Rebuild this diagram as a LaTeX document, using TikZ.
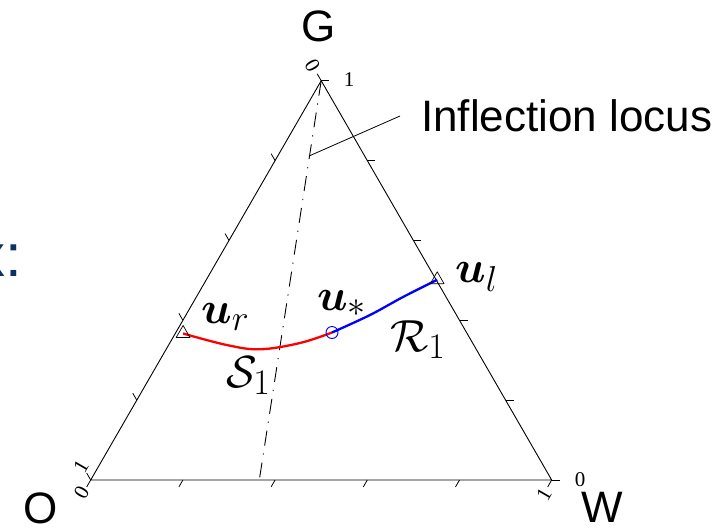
\RequirePackage{fix-cm}
\documentclass[tikz,border=0pt]{standalone}
\usepackage[no-math]{fontspec}
\usepackage{amsmath,amssymb}
\newfontfamily\lsans{Liberation Sans}
\newfontfamily\lserif{Liberation Serif}
\DeclareMathSizes{45}{45}{36}{29}
\usetikzlibrary{calc,shapes.geometric}
\definecolor{navy}{RGB}{10,50,100}
\begin{document}
\begin{tikzpicture}[x=1pt,y=-1pt,line join=round]
\tikzset{
 edge/.style={line width=0.9pt,black},
 tickmark/.style={line width=0.8pt},
 ticklbl/.style={font=\lserif\fontsize{21}{21}\selectfont, inner sep=0pt},
 vlbl/.style={font=\lsans\fontsize{44}{48}\selectfont, inner sep=0pt},
 mlbl/.style={font=\fontsize{45}{50}\selectfont, inner sep=0pt, anchor=base west},
 marker/.style={draw, regular polygon, regular polygon sides=3, minimum size=16pt, inner sep=0pt, line width=0.7pt},
 locus/.style={line width=0.9pt, dash pattern=on 15pt off 8pt on 1.2pt off 8pt},
}
\useasboundingbox (0,0) rectangle (728,528);
\clip (0,0) rectangle (728,528);
% vertices
\coordinate (O) at (90.7,480);
\coordinate (W) at (551.7,480);
\coordinate (G) at (321.2,80.7);
% ticks
\foreach \t in {0,0.2,0.4,0.6,0.8,1}{
 \draw[tickmark] ($(O)!\t!(W)$) -- ++(-4,6.9);
 \draw[tickmark] ($(O)!\t!(G)$) -- ++(-4,-6.9);
 \draw[tickmark] ($(W)!\t!(G)$) -- ++(8,0);
}
% triangle
\draw[edge] (O) -- (W) -- (G) -- cycle;
% inflection locus
\coordinate (Lb) at ($(O)!0.3657!(W)$);
\draw[locus] (G) -- (Lb);
\coordinate (Lp) at ($(G)!0.188!(Lb)$);
\coordinate (Le) at (400,116);
\draw[line width=0.8pt] (Lp) -- (Le);
\node[vlbl, anchor=base west] (infl) at (421,131.7) {Inflection locus};
% states
\coordinate (ur) at (183.1,333.5);
\coordinate (us) at (332,332.5);
\coordinate (ul) at (437.2,279.8);
\draw[red, line width=2.3pt] plot[smooth, tension=0.6] coordinates {(ur) (226.7,345) (260,349.3) (300,343) (us)};
\draw[blue, line width=2.3pt] plot[smooth, tension=0.6] coordinates {(us) (370,315) (403,297) (ul)};
\node[marker] (urm) at (ur) {};
\node[marker] (ulm) at (ul) {};
\node[circle, draw=blue, minimum size=12pt, inner sep=0pt, line width=0.9pt] (usm) at (us) {};
% math labels
\node[mlbl] (lur) at (201,323.5) {$\boldsymbol{u}_r$};
\node[mlbl] (lus) at (317,310) {$\boldsymbol{u}_*$};
\node[mlbl] (lul) at (455,282) {$\boldsymbol{u}_l$};
\node[mlbl] (ls) at (226,387) {$\mathcal{S}_1$};
\node[mlbl] (lr) at (390,351) {$\mathcal{R}_1$};
% tick labels
\node[ticklbl, rotate=-60] (t0g) at (312.5,66) {0};
\node[ticklbl] (t1g) at (349,79.5) {1};
\node[ticklbl, rotate=60] (t1o) at (81,466.5) {1};
\node[ticklbl, rotate=60] (t0o) at (81.5,493) {0};
\node[ticklbl] (t0w) at (580,480) {0};
\node[ticklbl, rotate=60] (t1w) at (544,494) {1};
% vertex labels
\node[vlbl] (lg) at (319,26) {G};
\node[vlbl] (lo) at (41,508) {O};
\node[vlbl] (lw) at (602,507.5) {W};
% cropped fragment at left edge
\node[font=\lsans\fontsize{60}{60}\selectfont, text=navy, inner sep=0pt, anchor=base west] (xfrag) at (-24.4,276) {x:};
\end{tikzpicture}
\end{document}
